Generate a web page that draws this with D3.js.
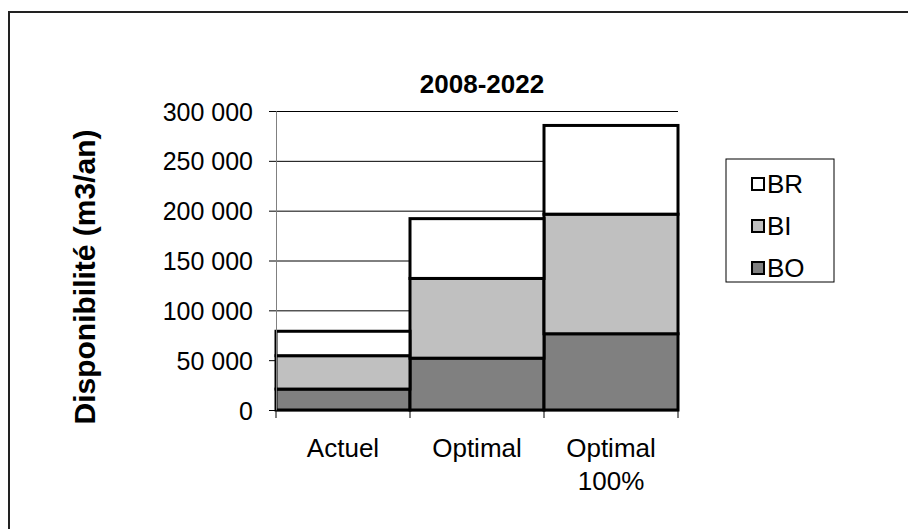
<!DOCTYPE html>
<html>
<head>
<meta charset="utf-8">
<script src="https://cdn.jsdelivr.net/npm/d3@7"></script>
<style>
  body { margin: 0; background: #fff; }
  text { font-family: "Liberation Sans", Arial, sans-serif; fill: #000; }
</style>
</head>
<body>
<div id="chart"></div>
<script>

let w = 908;
let h = 529;

// data
let categories = ["Actuel", "Optimal", "Optimal\n100%"];
let seriesNames = ["BO", "BI", "BR"];
let valuesBO = [21000, 52000, 76500];
let valuesBI = [33500, 80000, 120000];
let valuesBR = [24500, 60000, 89000];
let yTicks = [0, 50000, 100000, 150000, 200000, 250000, 300000];
let colors = { BO: "#808080", BI: "#c0c0c0", BR: "#ffffff" };

let rows = categories.map(function(c, i){
	return { cat: c, BO: valuesBO[i], BI: valuesBI[i], BR: valuesBR[i] };
});

let margin = { left: 276, right: 230, top: 111, bottom: 119 };

let viz = d3.select("#chart").append("svg")
	.attr("width", w)
	.attr("height", h)
;

// outer frame (cut off at right and bottom)
viz.append("rect")
	.attr("x", 9).attr("y", 12)
	.attr("width", 1000).attr("height", 1000)
	.attr("fill", "none")
	.attr("stroke", "#222")
	.attr("stroke-width", 2)
;

let xScale = d3.scaleBand().domain(categories).range([margin.left, w - margin.right]).padding(0);
let yScale = d3.scaleLinear().domain([0, 300000]).range([h - margin.bottom, margin.top]);

let fr = d3.formatLocale({ decimal: ",", thousands: " ", grouping: [3], currency: ["", ""] });
let fmt = fr.format(",");

// gridlines
let grid = viz.append("g").attr("transform", "translate(" + margin.left + ",0)")
	.call(d3.axisLeft(yScale).tickValues(yTicks).tickSize(-(w - margin.right - margin.left)).tickFormat(""));
grid.select(".domain").remove();
grid.selectAll("line").attr("stroke", "#000").attr("stroke-width", 1);

// stacked bars
let stack = d3.stack().keys(seriesNames);
let layers = stack(rows);

let barGroup = viz.append("g");
barGroup.selectAll(".layer").data(layers).enter()
	.append("g").attr("class", "layer")
	.attr("fill", function(d){ return colors[d.key]; })
	.selectAll("rect").data(function(d){ return d; }).enter()
	.append("rect")
		.attr("x", function(d){ return xScale(d.data.cat); })
		.attr("y", function(d){ return yScale(d[1]); })
		.attr("width", xScale.bandwidth())
		.attr("height", function(d){ return yScale(d[0]) - yScale(d[1]); })
		.attr("stroke", "#000")
		.attr("stroke-width", 3)
;

// y axis
let yAxis = viz.append("g").attr("transform", "translate(" + margin.left + ",0)")
	.call(d3.axisLeft(yScale).tickValues(yTicks).tickSize(7).tickPadding(16).tickFormat(fmt));
yAxis.select(".domain").attr("stroke", "#808080");
yAxis.selectAll("line").attr("stroke", "#000");
yAxis.selectAll("text").style("font-size", "25px").attr("dy", "0.36em");

// x axis
let xAxis = viz.append("g").attr("transform", "translate(0," + (h - margin.bottom) + ")")
	.call(d3.axisBottom(xScale).tickSize(0).tickFormat(""));
xAxis.select(".domain").attr("stroke", "#000").attr("stroke-width", 1.5);

// x ticks at band edges
let edges = categories.map(function(c){ return xScale(c); }).concat([xScale.range()[1]]);
xAxis.selectAll(".edge").data(edges).enter()
	.append("line")
		.attr("x1", function(d){ return d; }).attr("x2", function(d){ return d; })
		.attr("y1", 0).attr("y2", 8)
		.attr("stroke", "#000")
;

// category labels
let catLabels = viz.append("g").selectAll(".cat").data(categories).enter()
	.append("text")
		.attr("text-anchor", "middle")
		.attr("x", function(d){ return xScale(d) + xScale.bandwidth() / 2; })
		.attr("y", 457)
		.style("font-size", "26px")
;
catLabels.selectAll("tspan").data(function(d){ return d.split("\n"); }).enter()
	.append("tspan")
		.attr("x", function(){ return this.parentNode.getAttribute("x"); })
		.attr("dy", function(d, i){ return i === 0 ? 0 : 33; })
		.text(function(d){ return d; })
;

// title
viz.append("text")
	.attr("x", 482).attr("y", 93)
	.attr("text-anchor", "middle")
	.style("font-size", "26px").style("font-weight", "bold")
	.text("2008-2022")
;

// y axis title
viz.append("text")
	.attr("transform", "translate(95,277) rotate(-90)")
	.attr("text-anchor", "middle")
	.style("font-size", "30px").style("font-weight", "bold")
	.text("Disponibilité (m3/an)")
;

// legend
let legend = viz.append("g").attr("transform", "translate(726,159)");
legend.append("rect")
	.attr("width", 108).attr("height", 123)
	.attr("fill", "#fff").attr("stroke", "#000").attr("stroke-width", 1)
;
let legendOrder = seriesNames.slice().reverse();
let items = legend.selectAll(".item").data(legendOrder).enter()
	.append("g").attr("class", "item")
	.attr("transform", function(d, i){ return "translate(26," + (25 + i * 42) + ")"; })
;
items.append("rect")
	.attr("x", 0).attr("y", -6)
	.attr("width", 12).attr("height", 12)
	.attr("fill", function(d){ return colors[d]; })
	.attr("stroke", "#000").attr("stroke-width", 2)
;
items.append("text")
	.attr("x", 15).attr("dy", "0.36em")
	.style("font-size", "26px")
	.text(function(d){ return d; })
;

</script>
</body>
</html>
